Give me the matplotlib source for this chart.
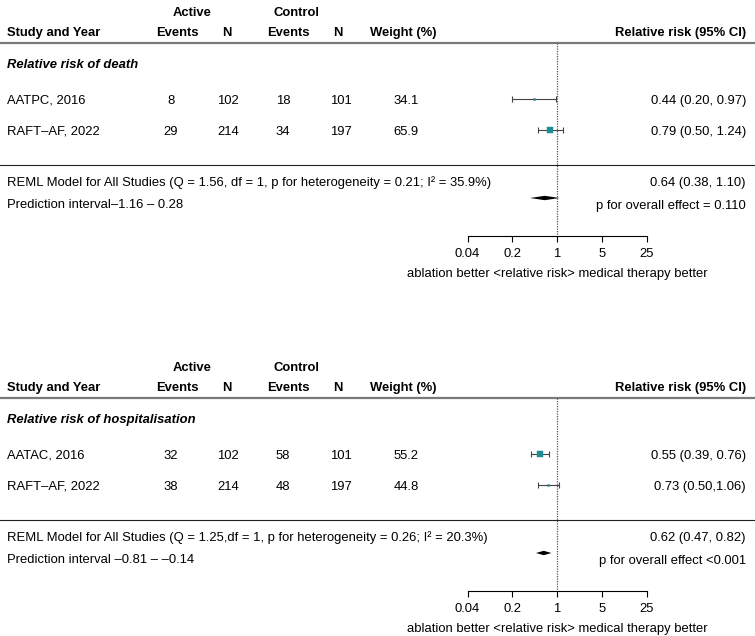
import matplotlib

matplotlib.use("Agg")
import matplotlib.pyplot as plt
import numpy as np
from matplotlib.ticker import NullLocator

plt.rcParams["font.family"] = ["Liberation Sans", "DejaVu Sans"]

W, H = 755, 636
FS = 9.4

# ── data ────────────────────────────────────────────────────────────────
death_title = "Relative risk of death"
death_studies = ["AATPC, 2016", "RAFT–AF, 2022"]
death_act_events = [8, 29]
death_act_n = [102, 214]
death_ctl_events = [18, 34]
death_ctl_n = [101, 197]
death_weight = [34.1, 65.9]
death_rr = [0.44, 0.79]
death_lo = [0.20, 0.50]
death_hi = [0.97, 1.24]
death_rr_text = ["0.44 (0.20, 0.97)", "0.79 (0.50, 1.24)"]
death_pooled = [0.64, 0.38, 1.10]
death_pooled_text = "0.64 (0.38, 1.10)"
death_model = "REML Model for All Studies (Q = 1.56, df = 1, p for heterogeneity = 0.21; I² = 35.9%)"
death_pi = "Prediction interval–1.16 – 0.28"
death_p = "p for overall effect = 0.110"

hosp_title = "Relative risk of hospitalisation"
hosp_studies = ["AATAC, 2016", "RAFT–AF, 2022"]
hosp_act_events = [32, 38]
hosp_act_n = [102, 214]
hosp_ctl_events = [58, 48]
hosp_ctl_n = [101, 197]
hosp_weight = [55.2, 44.8]
hosp_rr = [0.55, 0.73]
hosp_lo = [0.39, 0.50]
hosp_hi = [0.76, 1.06]
hosp_rr_text = ["0.55 (0.39, 0.76)", "0.73 (0.50,1.06)"]
hosp_pooled = [0.62, 0.47, 0.82]
hosp_pooled_text = "0.62 (0.47, 0.82)"
hosp_model = "REML Model for All Studies (Q = 1.25,df = 1, p for heterogeneity = 0.26; I² = 20.3%)"
hosp_pi = "Prediction interval –0.81 – –0.14"
hosp_p = "p for overall effect <0.001"

axis_ticks = [0.04, 0.2, 1, 5, 25]
axis_labels = ["0.04", "0.2", "1", "5", "25"]
axis_title = "ablation better <relative risk> medical therapy better"

# ── layout (pixels) ─────────────────────────────────────────────────────
PANEL_H = 281
X0_PX, X1_PX, XREF_PX = 468, 647, 557  # pixel positions of 0.04, 25, 1
TEAL = "#1f8b95"
BASE = 4.6  # text centre -> baseline offset, px


def px(x):
    return x / W


def draw_panel(ax, title, studies, a_ev, a_n, c_ev, c_n, weight, rr, lo, hi,
               rr_text, pooled, pooled_text, model, pi, ptxt):
    dec = (X1_PX - X0_PX) / (np.log10(25) - np.log10(0.04))
    ax.set_xscale("log")
    ax.set_xlim(10 ** (-XREF_PX / dec), 10 ** ((W - XREF_PX) / dec))
    ax.set_ylim(PANEL_H, 0)
    tr = ax.get_yaxis_transform()

    def txt(x, y, s, ha="center", **kw):
        ax.text(px(x), y + BASE, s, transform=tr, ha=ha, va="baseline",
                fontsize=FS, **kw)

    # headers
    txt(192, 11, "Active", weight="bold")
    txt(296, 11, "Control", weight="bold")
    txt(7, 31, "Study and Year", ha="left", weight="bold")
    txt(177, 31, "Events", weight="bold")
    txt(227, 31, "N", weight="bold")
    txt(288, 31, "Events", weight="bold")
    txt(338, 31, "N", weight="bold")
    txt(403, 31, "Weight (%)", weight="bold")
    txt(746, 31, "Relative risk (95% CI)", ha="right", weight="bold")
    ax.axhline(43, color="#7a7a7a", lw=1.6)
    txt(7, 63, title, ha="left", weight="bold", style="italic")

    rows = [99, 130]
    wmin, wmax = min(weight), max(weight)
    for i, y in enumerate(rows):
        txt(7, y, studies[i], ha="left")
        txt(171, y, str(a_ev[i]))
        txt(228, y, str(a_n[i]))
        txt(283, y, str(c_ev[i]))
        txt(341, y, str(c_n[i]))
        txt(406, y, f"{weight[i]:.1f}")
        txt(746, y, rr_text[i], ha="right")
        ax.errorbar(rr[i], y, xerr=[[rr[i] - lo[i]], [hi[i] - rr[i]]],
                    fmt="none", ecolor="#444444", elinewidth=0.8,
                    capsize=2, capthick=0.8, zorder=3)
        size_px = 2 + 5 * (weight[i] - wmin) / (wmax - wmin)
        ax.plot(rr[i], y, marker="s", ms=size_px / 1.389, color=TEAL,
                mec=TEAL, mew=0.3, zorder=4)

    ax.axhline(165, color="#222222", lw=0.8)
    txt(7, 181, model, ha="left")
    txt(746, 181, pooled_text, ha="right")
    txt(7, 203, pi, ha="left")
    txt(746, 204, ptxt, ha="right")

    est, plo, phi = pooled
    yd, hd = 198, 2.2
    ax.fill([plo, est, phi, est], [yd, yd - hd, yd, yd + hd],
            color="black", lw=0, zorder=4)

    ax.plot([1, 1], [43, 236], color="#555555", lw=0.9, ls=(0, (1, 1)),
            zorder=2)

    # log axis
    for s in ("top", "left", "right"):
        ax.spines[s].set_visible(False)
    ax.spines["bottom"].set_position(("data", 236))
    ax.spines["bottom"].set_bounds(axis_ticks[0], axis_ticks[-1])
    ax.spines["bottom"].set_linewidth(0.8)
    ax.set_yticks([])
    ax.set_xticks(axis_ticks)
    ax.set_xticklabels(axis_labels)
    ax.xaxis.set_minor_locator(NullLocator())
    ax.tick_params(axis="x", direction="out", length=4, width=0.8, pad=4.5,
                   labelsize=FS)
    ax.text(1, 272 + BASE, axis_title, ha="center", va="baseline",
            fontsize=FS)
    ax.patch.set_visible(False)


fig = plt.figure(figsize=(W / 100, H / 100), dpi=100)
ax1 = fig.add_axes([0, (H - PANEL_H) / H, 1, PANEL_H / H])
ax2 = fig.add_axes([0, 0, 1, PANEL_H / H])

draw_panel(ax1, death_title, death_studies, death_act_events, death_act_n,
           death_ctl_events, death_ctl_n, death_weight, death_rr, death_lo,
           death_hi, death_rr_text, death_pooled, death_pooled_text,
           death_model, death_pi, death_p)
draw_panel(ax2, hosp_title, hosp_studies, hosp_act_events, hosp_act_n,
           hosp_ctl_events, hosp_ctl_n, hosp_weight, hosp_rr, hosp_lo,
           hosp_hi, hosp_rr_text, hosp_pooled, hosp_pooled_text,
           hosp_model, hosp_pi, hosp_p)

fig.savefig("out.png", dpi=100)
